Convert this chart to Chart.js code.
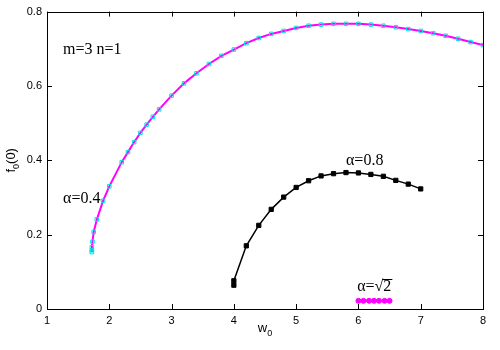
<!DOCTYPE html>
<html><head><meta charset="utf-8">
<script src="https://cdn.jsdelivr.net/npm/chart.js@4/dist/chart.umd.min.js"></script>
<style>html,body{margin:0;padding:0;background:#fff}#c{display:block}</style>
</head><body>
<canvas id="c" width="500" height="350"></canvas>
<script>
// ---- data ----
const xTicks = [1, 2, 3, 4, 5, 6, 7, 8];
const yTicks = [0, 0.2, 0.4, 0.6, 0.8];

// alpha = 0.4 (m=3, n=1)
const a04X = [1.72, 1.72, 1.72, 1.73, 1.75, 1.80, 1.90, 2.00, 2.20, 2.30, 2.40, 2.50, 2.60, 2.70, 2.80,
              3.00, 3.20, 3.40, 3.60, 3.80, 4.00, 4.20, 4.40, 4.60, 4.80, 5.00, 5.20, 5.40, 5.60, 5.80,
              6.00, 6.20, 6.40, 6.60, 6.80, 7.00, 7.20, 7.40, 7.60, 7.80, 8.00];
const a04Y = [0.153, 0.158, 0.166, 0.181, 0.207, 0.241, 0.291, 0.330, 0.395, 0.422, 0.449, 0.474, 0.496, 0.517, 0.537,
              0.574, 0.607, 0.634, 0.659, 0.681, 0.698, 0.715, 0.729, 0.740, 0.748, 0.756, 0.762, 0.765, 0.767, 0.767,
              0.767, 0.765, 0.762, 0.758, 0.753, 0.748, 0.742, 0.735, 0.727, 0.718, 0.710];

// alpha = 0.8
const a08X = [4.00, 4.00, 4.20, 4.40, 4.60, 4.80, 5.00, 5.20, 5.40, 5.60, 5.80, 6.00, 6.20, 6.40, 6.60, 6.80, 7.00];
const a08Y = [0.064, 0.076, 0.170, 0.225, 0.268, 0.301, 0.327, 0.345, 0.358, 0.364, 0.367, 0.366, 0.362, 0.357, 0.346, 0.336, 0.323];

// alpha = sqrt(2)
const aR2X = [6.00, 6.08, 6.17, 6.25, 6.33, 6.42, 6.50];
const aR2Y = [0.022, 0.022, 0.022, 0.022, 0.022, 0.022, 0.022];

// annotations (data coordinates of text anchor: left / baseline)
const notes = [
  { text: 'm=3 n=1', x: 1.257, y: 0.685 },
  { text: 'α=0.4', x: 1.257, y: 0.285 },
  { text: 'α=0.8', x: 5.80, y: 0.387 },
  { text: 'α=√2', x: 5.98, y: 0.049, sqrt: true }
];

const pts = (xs, ys) => xs.map((x, i) => ({ x, y: ys[i] }));

const frame = {
  id: 'frame',
  afterDraw(chart) {
    const { ctx, chartArea: a, scales } = chart;
    const xs = scales.x, ys = scales.y;
    ctx.save();
    ctx.strokeStyle = '#000';
    ctx.lineWidth = 1;
    ctx.strokeRect(Math.round(a.left) + 0.5, Math.round(a.top) + 0.5,
                   Math.round(a.right - a.left), Math.round(a.bottom - a.top));
    const L = 5;
    ctx.beginPath();
    xTicks.forEach(v => {
      const p = Math.round(xs.getPixelForValue(v)) + 0.5;
      ctx.moveTo(p, a.bottom); ctx.lineTo(p, a.bottom - L);
      ctx.moveTo(p, a.top); ctx.lineTo(p, a.top + L);
    });
    yTicks.forEach(v => {
      const p = Math.round(ys.getPixelForValue(v)) + 0.5;
      ctx.moveTo(a.left, p); ctx.lineTo(a.left + L, p);
      ctx.moveTo(a.right, p); ctx.lineTo(a.right - L, p);
    });
    ctx.stroke();

    // annotations
    ctx.fillStyle = '#000';
    ctx.font = '16px "Liberation Serif", "DejaVu Serif", serif';
    ctx.textBaseline = 'alphabetic';
    ctx.textAlign = 'left';
    notes.forEach(n => {
      const px = xs.getPixelForValue(n.x), py = ys.getPixelForValue(n.y);
      ctx.fillText(n.text, px, py);
      if (n.sqrt) {
        const pre = ctx.measureText('α=√').width;
        const w2 = ctx.measureText('2').width;
        ctx.beginPath();
        ctx.lineWidth = 1;
        ctx.moveTo(px + pre - 1, Math.round(py - 12) + 0.5);
        ctx.lineTo(px + pre + w2 + 1, Math.round(py - 12) + 0.5);
        ctx.stroke();
      }
    });

    // axis titles with subscripts
    const big = '13px "Liberation Sans", Arial, sans-serif';
    const sub = '9px "Liberation Sans", Arial, sans-serif';
    // x title: w0
    const cx = (a.left + a.right) / 2;
    ctx.font = big;
    const ww = ctx.measureText('w').width;
    ctx.font = sub;
    const w0 = ctx.measureText('0').width;
    const startX = cx - (ww + w0) / 2;
    ctx.font = big;
    ctx.fillText('w', startX, 332);
    ctx.font = sub;
    ctx.fillText('0', startX + ww, 336);

    // y title: f0(0) rotated
    ctx.translate(15, (a.top + a.bottom) / 2);
    ctx.rotate(-Math.PI / 2);
    ctx.font = big;
    const wf = ctx.measureText('f').width;
    const wp = ctx.measureText('(0)').width;
    ctx.font = sub;
    const ws = ctx.measureText('0').width;
    const sx = -(wf + ws + wp) / 2;
    ctx.font = big;
    ctx.fillText('f', sx, 0);
    ctx.font = sub;
    ctx.fillText('0', sx + wf, 4);
    ctx.font = big;
    ctx.fillText('(0)', sx + wf + ws, 0);
    ctx.restore();
  }
};

new Chart(document.getElementById('c'), {
  type: 'scatter',
  data: {
    datasets: [
      {
        data: pts(a04X, a04Y), showLine: true, borderColor: '#ff00ff', borderWidth: 2,
        pointStyle: 'rect', pointRadius: 2.5, pointBorderColor: '#00e0e0', pointBackgroundColor: 'rgba(0,0,0,0)',
        pointBorderWidth: 1, tension: 0
      },
      {
        data: pts(a08X, a08Y), showLine: true, borderColor: '#000', borderWidth: 1.5,
        pointStyle: 'rect', pointRadius: 3, pointBorderColor: '#000', pointBackgroundColor: '#000',
        pointBorderWidth: 1, tension: 0
      },
      {
        data: pts(aR2X, aR2Y), showLine: true, borderColor: '#ff00ff', borderWidth: 2,
        pointStyle: 'circle', pointRadius: 2.5, pointBorderColor: '#ff00ff', pointBackgroundColor: '#ff00ff',
        pointBorderWidth: 1, tension: 0
      }
    ]
  },
  options: {
    responsive: false,
    devicePixelRatio: 1,
    animation: false,
    layout: { padding: { top: 11, right: 17, left: 0, bottom: 0 } },
    plugins: { legend: { display: false }, tooltip: { enabled: false } },
    scales: {
      x: {
        type: 'linear', min: 1, max: 8,
        afterBuildTicks: s => { s.ticks = xTicks.map(v => ({ value: v })); },
        afterFit: s => { s.height = 41; },
        grid: { display: false, drawTicks: false }, border: { display: false },
        ticks: { color: '#000', padding: 5, font: { size: 11, family: '"Liberation Sans", Arial, sans-serif' },
                 callback: v => String(v), maxRotation: 0 }
      },
      y: {
        type: 'linear', min: 0, max: 0.8,
        afterBuildTicks: s => { s.ticks = yTicks.map(v => ({ value: v })); },
        afterFit: s => { s.width = 47; },
        grid: { display: false, drawTicks: false }, border: { display: false },
        ticks: { color: '#000', padding: 5, font: { size: 11, family: '"Liberation Sans", Arial, sans-serif' },
                 callback: v => String(Math.round(v * 10) / 10) }
      }
    }
  },
  plugins: [frame]
});
</script>
</body></html>
